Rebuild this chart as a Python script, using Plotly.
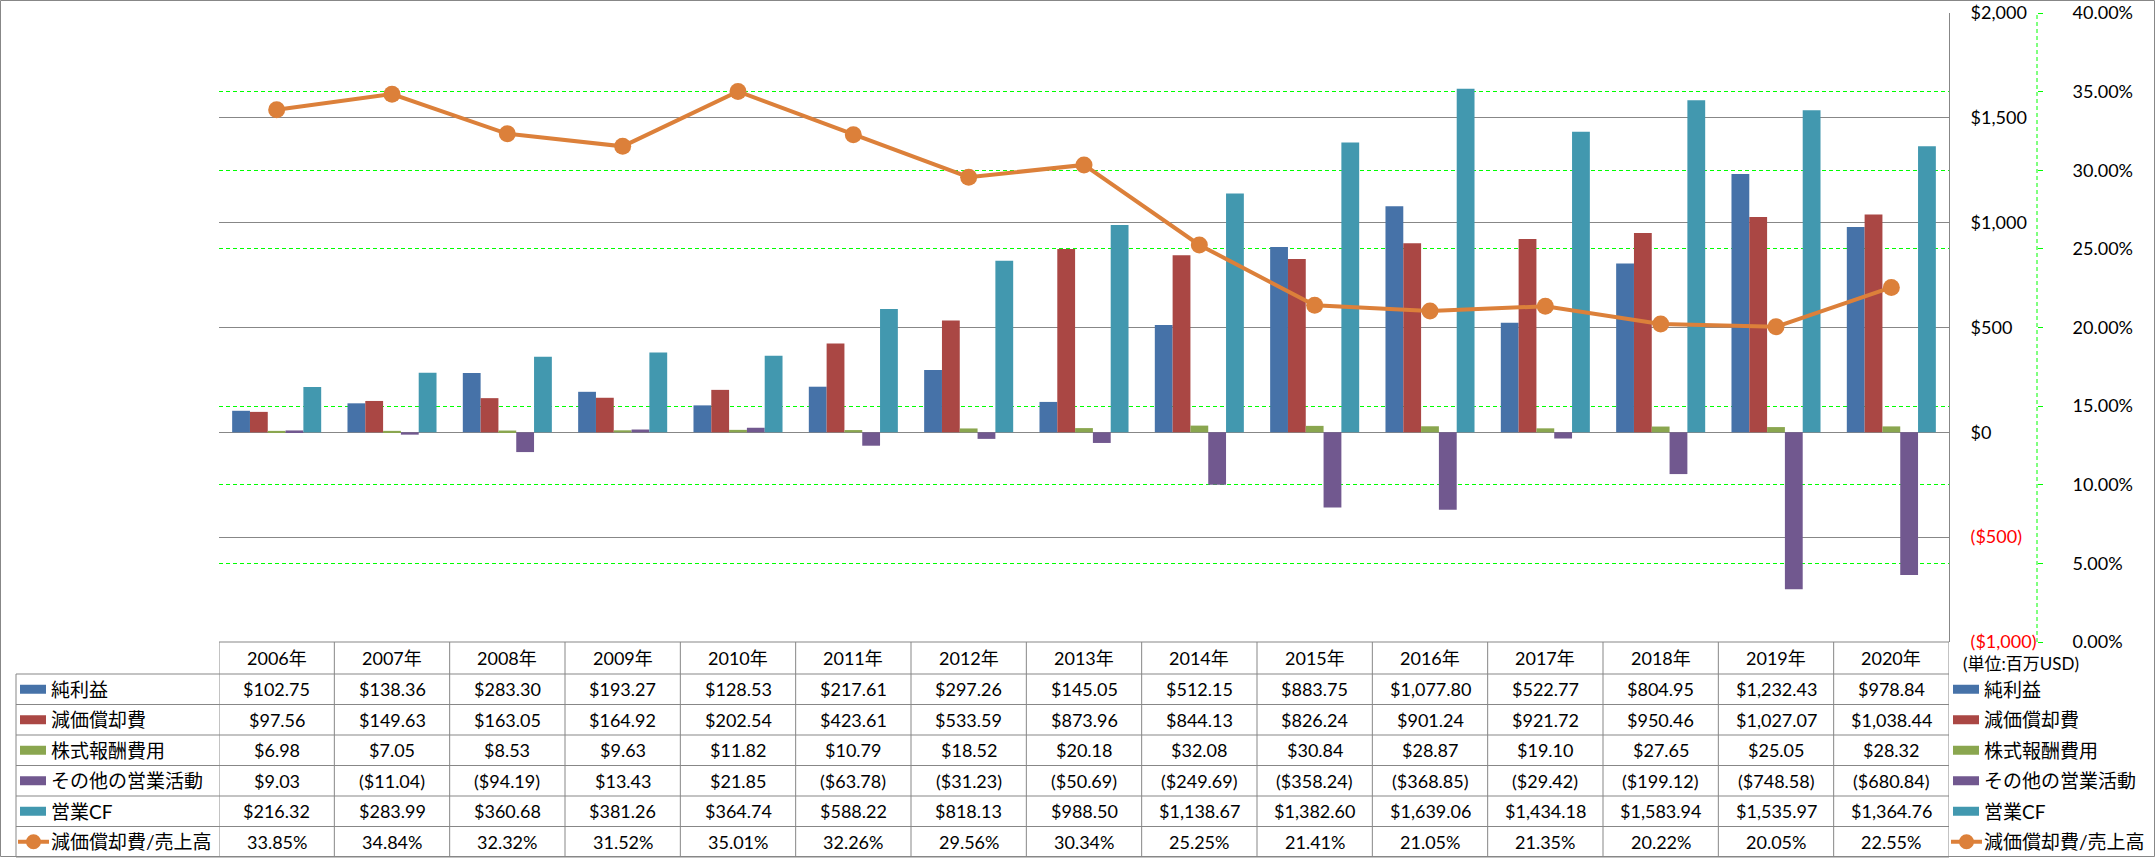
import plotly.graph_objects as go

# ---------------- data ----------------
years = ["2006年", "2007年", "2008年", "2009年", "2010年", "2011年", "2012年", "2013年",
         "2014年", "2015年", "2016年", "2017年", "2018年", "2019年", "2020年"]
net_income = [102.75, 138.36, 283.30, 193.27, 128.53, 217.61, 297.26, 145.05,
              512.15, 883.75, 1077.80, 522.77, 804.95, 1232.43, 978.84]
depreciation = [97.56, 149.63, 163.05, 164.92, 202.54, 423.61, 533.59, 873.96,
                844.13, 826.24, 901.24, 921.72, 950.46, 1027.07, 1038.44]
stock_comp = [6.98, 7.05, 8.53, 9.63, 11.82, 10.79, 18.52, 20.18,
              32.08, 30.84, 28.87, 19.10, 27.65, 25.05, 28.32]
other_ops = [9.03, -11.04, -94.19, 13.43, 21.85, -63.78, -31.23, -50.69,
             -249.69, -358.24, -368.85, -29.42, -199.12, -748.58, -680.84]
operating_cf = [216.32, 283.99, 360.68, 381.26, 364.74, 588.22, 818.13, 988.50,
                1138.67, 1382.60, 1639.06, 1434.18, 1583.94, 1535.97, 1364.76]
dep_ratio_pct = [33.85, 34.84, 32.32, 31.52, 35.01, 32.26, 29.56, 30.34,
                 25.25, 21.41, 21.05, 21.35, 20.22, 20.05, 22.55]

bar_names = ["純利益", "減価償却費", "株式報酬費用", "その他の営業活動", "営業CF"]
bar_series = [net_income, depreciation, stock_comp, other_ops, operating_cf]
bar_colors = ["#4672A8", "#AA4744", "#8AA64F", "#71588F", "#4298AF"]
line_name = "減価償却費/売上高"
line_color = "#DC803A"
usd_ticks = [-1000, -500, 0, 500, 1000, 1500, 2000]
unit_label = "(単位:百万USD)"

# ---------------- helpers ----------------
W, H = 2156, 858
FONT = "Lato, 'Noto Sans CJK JP', sans-serif"
GRID = "#878787"
NUM_SIZE = 18


def px(x):
    return x / W


def py(y):
    return 1 - y / H


def fmt_money(v, dec=2):
    s = ("${:,.%df}" % dec).format(abs(v))
    return "(" + s + ")" if v < 0 else s


def usd_tick(v):
    s = fmt_money(v, 0)
    return "<span style='color:#FF0000'>" + s + "</span>" if v < 0 else s


fig = go.Figure()
for name, vals, col in zip(bar_names, bar_series, bar_colors):
    fig.add_trace(go.Bar(x=years, y=vals, name=name, marker_color=col,
                         marker_line_width=0))
fig.add_trace(go.Scatter(x=years, y=[v / 100 for v in dep_ratio_pct], name=line_name,
                         yaxis="y2", mode="lines+markers",
                         line=dict(color=line_color, width=4),
                         marker=dict(color=line_color, size=17)))
# helper (empty) trace so the overlay axis that re-draws the grey grid on top exists
fig.add_trace(go.Scatter(x=years, y=[None] * len(years), yaxis="y3", mode="lines",
                         showlegend=False, hoverinfo="skip"))

# ---------------- geometry ----------------
plot_l, plot_r, plot_t, plot_b = 219, 1949, 13, 642
tab_l = 16
head_b = 674
row_h = 30.5
n_rows = 6

shapes = []
annotations = []

# outer border
shapes.append(dict(type="rect", xref="paper", yref="paper", x0=px(0.5), x1=px(W - 1.5),
                   y0=py(0.5), y1=py(H - 1.5), line=dict(color=GRID, width=1)))
# secondary axis dashed line
shapes.append(dict(type="line", xref="paper", yref="paper", x0=px(2037), x1=px(2037),
                   y0=py(plot_b), y1=py(plot_t),
                   line=dict(color="#00FF00", width=1, dash="4px,3px")))
# table top line (header)
shapes.append(dict(type="line", xref="paper", yref="paper", x0=px(plot_l), x1=px(plot_r),
                   y0=py(plot_b), y1=py(plot_b), line=dict(color=GRID, width=1)))
# horizontal row lines
for i in range(n_rows + 1):
    yy = head_b + i * row_h
    shapes.append(dict(type="line", xref="paper", yref="paper", x0=px(tab_l), x1=px(plot_r),
                       y0=py(yy), y1=py(yy), line=dict(color=GRID, width=1)))
# vertical lines
shapes.append(dict(type="line", xref="paper", yref="paper", x0=px(tab_l), x1=px(tab_l),
                   y0=py(head_b), y1=py(head_b + n_rows * row_h), line=dict(color=GRID, width=1)))
for k in range(len(years) + 1):
    shapes.append(dict(type="line", xref="x", yref="paper", x0=k - 0.5, x1=k - 0.5,
                       y0=py(plot_b), y1=py(head_b + n_rows * row_h),
                       line=dict(color=GRID, width=1)))

# header text
for yr in years:
    annotations.append(dict(x=yr, xref="x", y=py((plot_b + head_b) / 2), yref="paper",
                            text=yr, showarrow=False, xanchor="center", yanchor="middle",
                            font=dict(family=FONT, size=NUM_SIZE, color="#000")))

row_values = [[fmt_money(v) for v in s] for s in bar_series] + \
             [["{:.2f}%".format(v) for v in dep_ratio_pct]]
row_labels = bar_names + [line_name]
row_colors = bar_colors + [line_color]

for i, (lab, vals, col) in enumerate(zip(row_labels, row_values, row_colors)):
    yc = head_b + (i + 0.5) * row_h
    for yr, t in zip(years, vals):
        annotations.append(dict(x=yr, xref="x", y=py(yc), yref="paper", text=t,
                                showarrow=False, xanchor="center", yanchor="middle",
                                font=dict(family=FONT, size=NUM_SIZE, color="#000")))
    # left key + label, right legend key + label
    for kx0, kx1, tx in [(20, 46, 49), (1953, 1979, 1982)]:
        if i < 5:
            shapes.append(dict(type="rect", xref="paper", yref="paper", x0=px(kx0), x1=px(kx1),
                               y0=py(yc - 4.5), y1=py(yc + 4.5), fillcolor=col,
                               line=dict(width=0)))
        else:
            shapes.append(dict(type="line", xref="paper", yref="paper", x0=px(kx0 - 2),
                               x1=px(kx1 + 3), y0=py(yc), y1=py(yc),
                               line=dict(color=col, width=4)))
            cx = (kx0 + kx1) / 2 + 0.5
            shapes.append(dict(type="circle", xref="paper", yref="paper", x0=px(cx - 7.5),
                               x1=px(cx + 7.5), y0=py(yc - 7.5), y1=py(yc + 7.5),
                               fillcolor=col, line=dict(width=0)))
        annotations.append(dict(x=px(tx), xref="paper", y=py(yc), yref="paper", text=lab,
                                showarrow=False, xanchor="left", yanchor="middle",
                                font=dict(family=FONT, size=19, color="#000")))

annotations.append(dict(x=px(1961), xref="paper", y=py(663), yref="paper", text=unit_label,
                        showarrow=False, xanchor="left", yanchor="middle",
                        font=dict(family=FONT, size=17, color="#000")))

fig.update_layout(
    width=W, height=H, margin=dict(l=0, r=0, t=0, b=0, pad=0), autosize=False,
    paper_bgcolor="white", plot_bgcolor="white", showlegend=False,
    barmode="group", bargap=0.228, bargroupgap=0,
    font=dict(family=FONT, size=NUM_SIZE, color="#000"),
    xaxis=dict(domain=[px(plot_l), px(plot_r)], type="category", range=[-0.5, 14.5],
               showticklabels=False, showgrid=False, zeroline=False, showline=False, ticks="",
               automargin=False),
    yaxis=dict(domain=[py(plot_b), py(plot_t)], range=[-1000, 2000], side="right",
               tickmode="array", tickvals=usd_ticks, ticktext=[usd_tick(v) for v in usd_ticks],
               showgrid=False, zeroline=False,
               showline=True, linecolor=GRID, linewidth=1, ticks="", automargin=False,
               ticklabelstandoff=17, tickfont=dict(family=FONT, size=NUM_SIZE, color="#000")),
    yaxis2=dict(overlaying="y", anchor="free", position=px(2037), side="right",
                range=[0, 0.4], tickmode="linear", tick0=0, dtick=0.05, tickformat=".2%",
                showgrid=True, gridcolor="#00FF00", gridwidth=1, griddash="4px,3px",
                zeroline=False, showline=False, ticks="outside", ticklen=5,
                tickcolor="#00FF00", ticklabelstandoff=26, automargin=False,
                tickfont=dict(family=FONT, size=NUM_SIZE, color="#000")),
    yaxis3=dict(overlaying="y", anchor="x", side="right", range=[-1000, 2000],
                tickmode="array", tickvals=usd_ticks, showticklabels=False,
                showgrid=True, gridcolor=GRID, gridwidth=1, zeroline=False,
                showline=False, ticks="", automargin=False),
    shapes=shapes, annotations=annotations,
)

fig.write_html("out.html", config={"displayModeBar": False},
               post_script="document.body.style.margin='0';document.body.style.overflow='hidden';")
